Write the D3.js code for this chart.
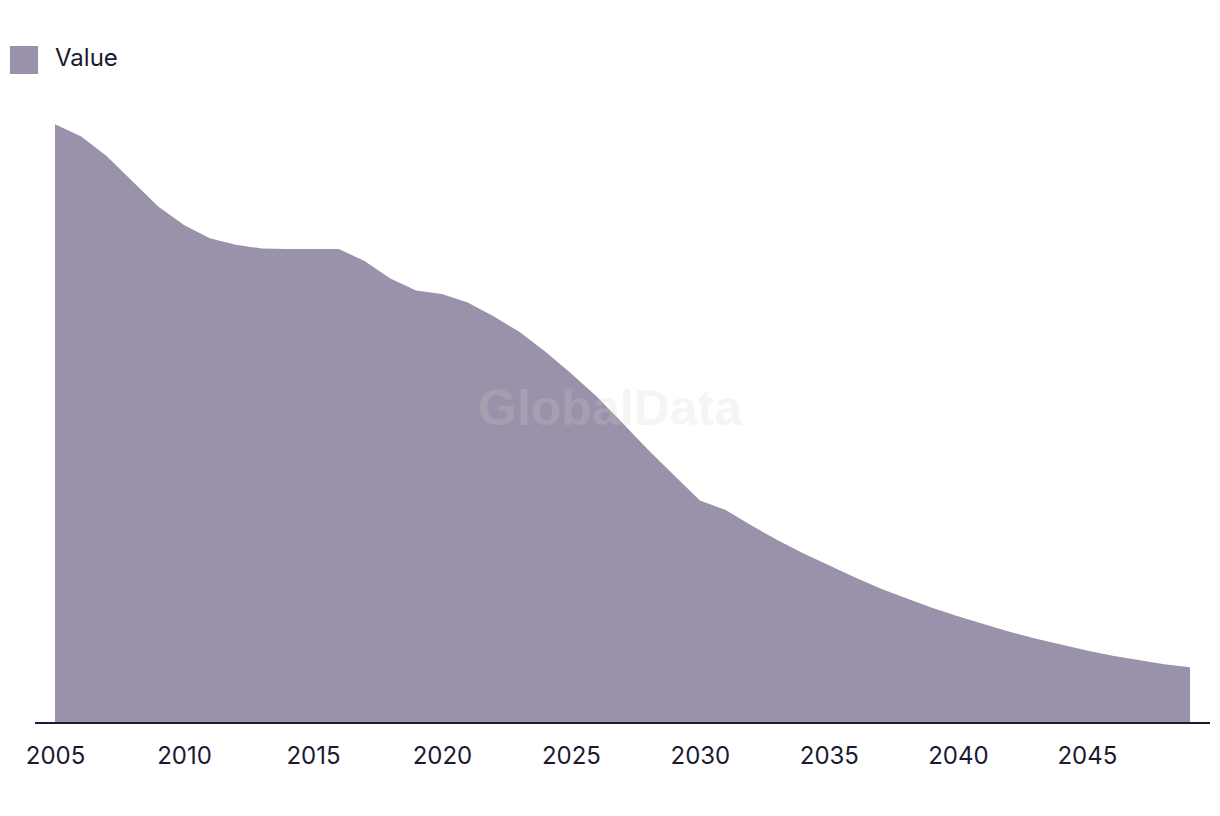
<!DOCTYPE html>
<html>
<head>
<meta charset="utf-8">
<script src="https://cdn.jsdelivr.net/npm/d3@7"></script>
<style>
  html, body { margin: 0; padding: 0; background: #fff; }
  svg { display: block; font-family: Inter, "Noto Sans", sans-serif; }
</style>
</head>
<body>
<svg id="chart" width="1220" height="816"></svg>
<script>
const years = d3.range(2005, 2050);
const values = [
  99.8, 97.8, 94.5, 90.3, 86.1, 83.0, 80.8, 79.7, 79.1, 79.0,
  79.0, 79.0, 77.0, 74.1, 72.1, 71.5, 70.1, 67.8, 65.2, 61.9,
  58.3, 54.4, 50.0, 45.5, 41.3, 37.1, 35.5, 32.9, 30.5, 28.3,
  26.3, 24.3, 22.4, 20.8, 19.2, 17.8, 16.5, 15.2, 14.1, 13.1,
  12.1, 11.2, 10.5, 9.8, 9.3
];
const tickYears = [2005, 2010, 2015, 2020, 2025, 2030, 2035, 2040, 2045];
const seriesName = "Value";
const watermark = "GlobalData";

const data = years.map((y, i) => ({ year: y, value: values[i] }));

const svg = d3.select("#chart");
const fillColor = "#9a91aa";
const inkColor = "#1c1a30";

const x = d3.scaleLinear().domain([2005, 2049]).range([55, 1190]);
const y = d3.scaleLinear().domain([0, 100]).range([723, 123]);

// area
const area = d3.area()
  .x(d => x(d.year))
  .y0(y(0))
  .y1(d => y(d.value))
  .curve(d3.curveLinear);

svg.append("path")
  .datum(data)
  .attr("d", area)
  .attr("fill", fillColor);

// watermark
svg.append("text")
  .attr("x", 610)
  .attr("y", 425)
  .attr("text-anchor", "middle")
  .attr("font-family", "Liberation Sans, Arial, sans-serif")
  .attr("font-weight", "bold")
  .attr("font-size", 50)
  .attr("fill", "#d0d0d0")
  .attr("fill-opacity", 0.22)
  .text(watermark);

// x axis baseline
svg.append("line")
  .attr("x1", x.range()[0] - 20)
  .attr("x2", x.range()[1] + 20)
  .attr("y1", y(0))
  .attr("y2", y(0))
  .attr("stroke", inkColor)
  .attr("stroke-width", 2);

// x axis tick labels
const axis = d3.axisBottom(x)
  .tickValues(tickYears)
  .tickFormat(d3.format("d"))
  .tickSize(0)
  .tickPadding(24);

const gAxis = svg.append("g")
  .attr("transform", `translate(0,${y(0)})`)
  .call(axis);
gAxis.select(".domain").remove();
gAxis.selectAll("text")
  .attr("font-family", "Inter, 'Noto Sans', sans-serif")
  .attr("font-size", 24)
  .attr("fill", inkColor);

// legend
const legend = svg.append("g").attr("transform", "translate(10,46)");
legend.append("rect")
  .attr("width", 28)
  .attr("height", 28)
  .attr("fill", fillColor);
legend.append("text")
  .attr("x", 45)
  .attr("y", 20)
  .attr("font-size", 24)
  .attr("fill", inkColor)
  .text(seriesName);
</script>
</body>
</html>
